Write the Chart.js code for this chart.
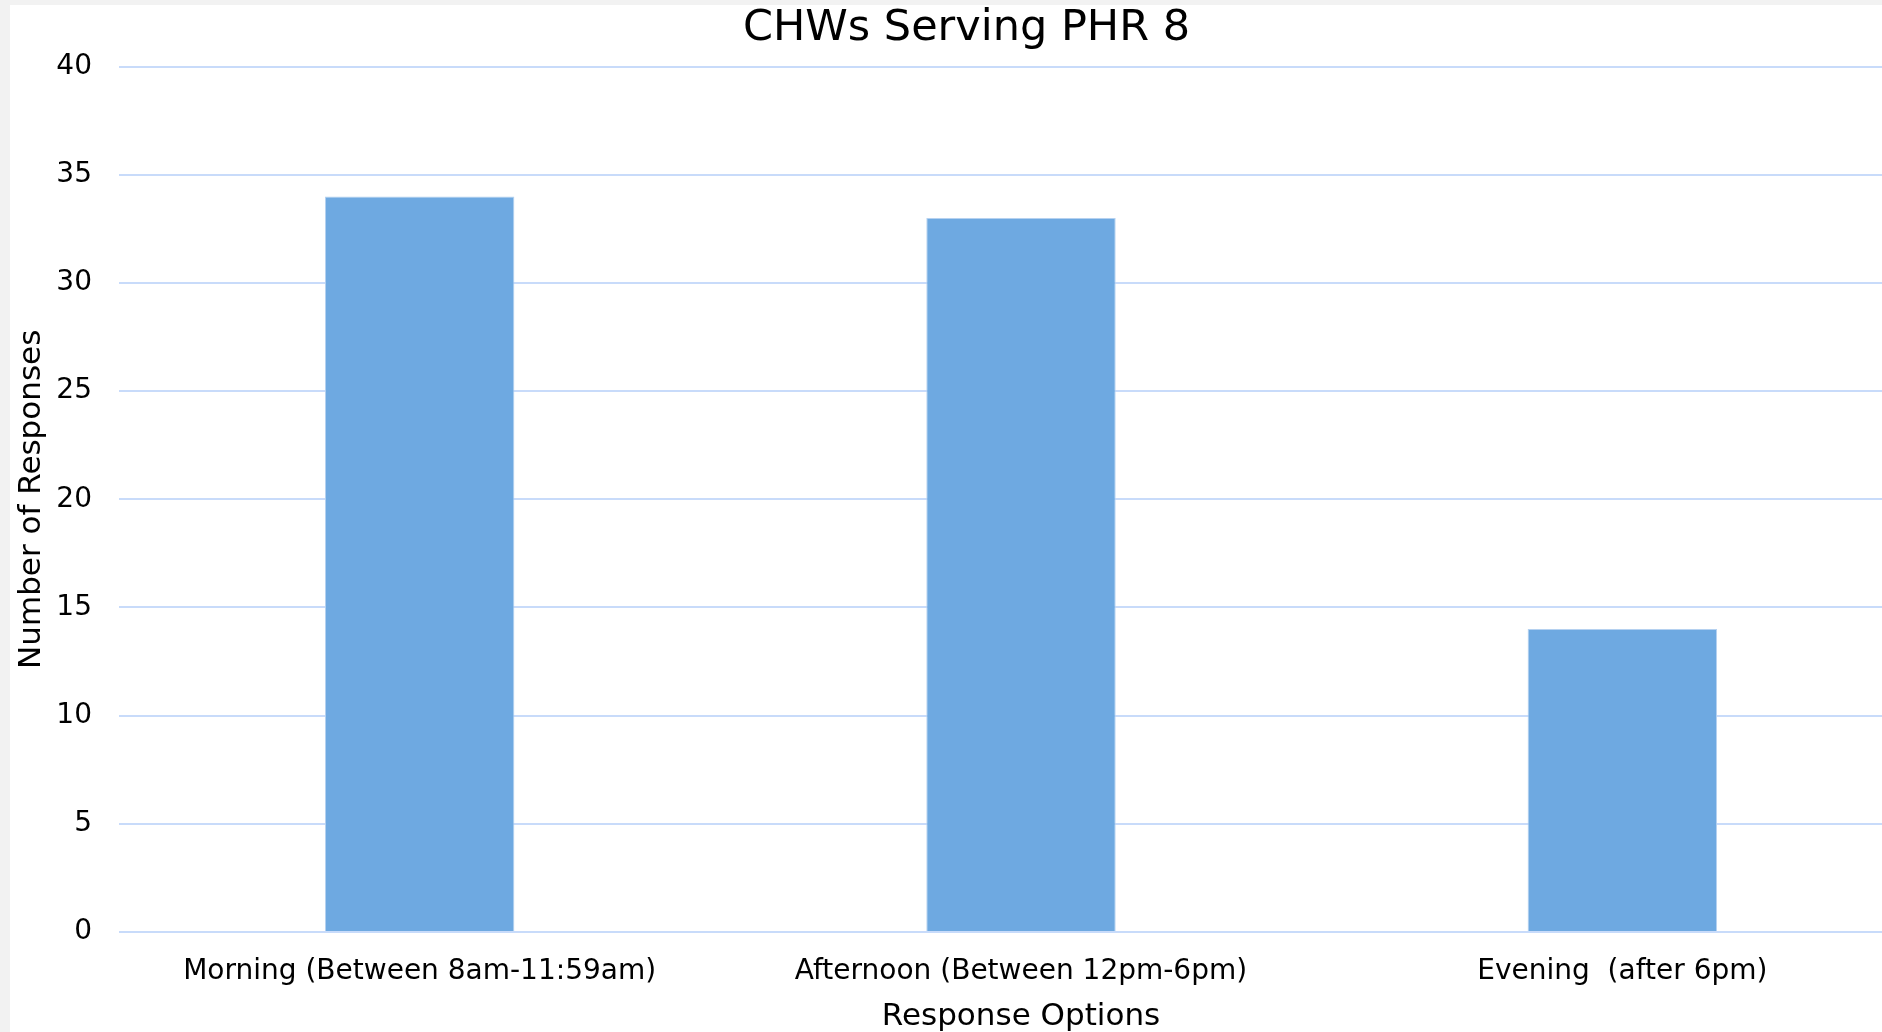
<!DOCTYPE html>
<html>
<head>
<meta charset="utf-8">
<script src="https://cdn.jsdelivr.net/npm/chart.js@4/dist/chart.umd.min.js"></script>
<style>
  html, body { margin: 0; padding: 0; background: #f2f2f2; overflow: hidden; width: 1882px; height: 1032px; }
  #wrap { position: absolute; left: 10px; top: 5px; width: 1935px; height: 1031px; background: #ffffff; }
  canvas { display: block; }
</style>
</head>
<body>
<div id="wrap"><canvas id="c" width="1935" height="1031"></canvas></div>
<script>
const categories = ["Morning (Between 8am-11:59am)", "Afternoon (Between 12pm-6pm)", "Evening  (after 6pm)"];
const responses = [34, 33, 14];
const yTicks = [0, 5, 10, 15, 20, 25, 30, 35, 40];
const chartTitle = "CHWs Serving PHR 8";
const xTitle = "Response Options";
const yTitle = "Number of Responses";

const FONT = "'DejaVu Sans', Verdana, sans-serif";

new Chart(document.getElementById('c'), {
  type: 'bar',
  data: {
    labels: categories,
    datasets: [{
      label: yTitle,
      data: responses,
      backgroundColor: '#6ea9e1',
      borderColor: '#b5d1f0',
      borderWidth: 1,
      barPercentage: 1,
      categoryPercentage: 0.315
    }]
  },
  options: {
    responsive: false,
    animation: false,
    layout: { padding: { left: 0, right: 22, top: 0, bottom: 0 } },
    plugins: {
      legend: { display: false },
      tooltip: { enabled: false },
      title: {
        display: true,
        text: chartTitle,
        color: '#000000',
        font: { family: FONT, size: 43, weight: 'normal' },
        padding: { top: -2, bottom: 12 }
      }
    },
    scales: {
      x: {
        grid: { display: false, drawTicks: false },
        border: { display: false },
        ticks: { color: '#000000', font: { family: FONT, size: 28 }, padding: 23, maxRotation: 0, autoSkip: false },
        title: { display: true, text: xTitle, color: '#000000', font: { family: FONT, size: 31 }, padding: { top: 4, bottom: 0 } },
        afterFit: s => { s.height = 104; }
      },
      y: {
        min: 0,
        max: 40,
        afterBuildTicks: s => { s.ticks = yTicks.map(v => ({ value: v })); },
        grid: { color: '#c8dbfa', lineWidth: 2, drawTicks: false },
        border: { display: false },
        ticks: { color: '#000000', font: { family: FONT, size: 28 }, padding: 27 },
        title: { display: true, text: yTitle, color: '#000000', font: { family: FONT, size: 31 }, padding: { top: 3, bottom: 0 } },
        afterFit: s => { s.width = 109; }
      }
    }
  }
});
</script>
</body>
</html>
